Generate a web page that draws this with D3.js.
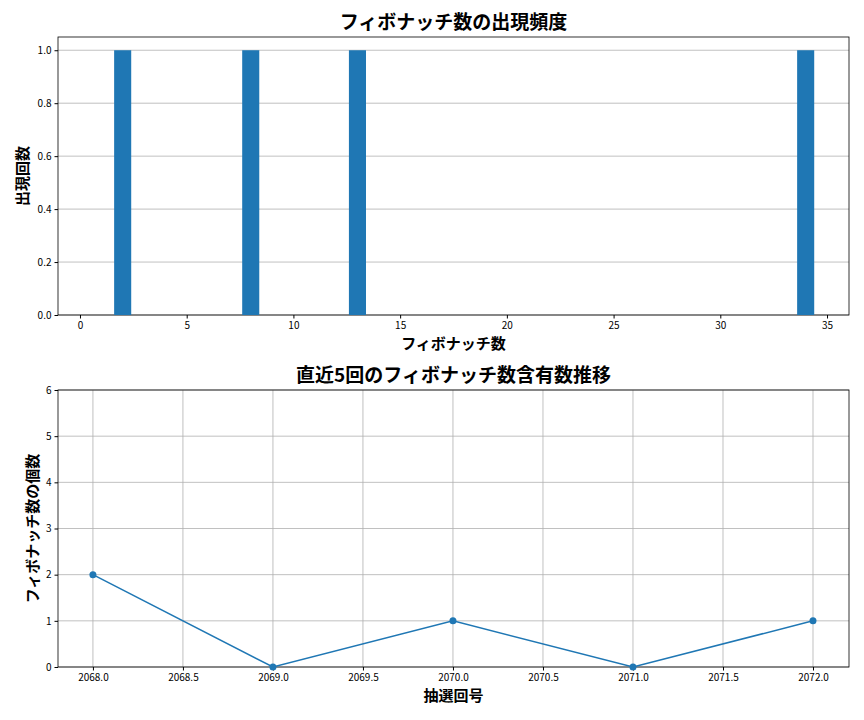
<!DOCTYPE html>
<html><head><meta charset="utf-8">
<script src="https://cdn.jsdelivr.net/npm/d3@7"></script>
<style>body{margin:0;background:#fff;font-family:"Noto Sans CJK JP",sans-serif}</style>
</head><body><svg id="c" width="864" height="720"></svg>
<script>
// data
let fibNums = [2, 8, 13, 34];
let fibCounts = [1, 1, 1, 1];
let drawNos = [2068, 2069, 2070, 2071, 2072];
let fibInDraw = [2, 0, 1, 0, 1];
let xTicks1 = [0, 5, 10, 15, 20, 25, 30, 35];
let yTicks1 = [0, 0.2, 0.4, 0.6, 0.8, 1.0];
let xTicks2 = [2068, 2068.5, 2069, 2069.5, 2070, 2070.5, 2071, 2071.5, 2072];
let yTicks2 = [0, 1, 2, 3, 4, 5, 6];

let svg = d3.select("#c");
let blue = "#1f77b4";

function frame(g, x, y, xt, yt, xf, yf, vgrid) {
    let [x0, x1] = x.range(), [y0, y1] = y.range();
    g.selectAll(".hg").data(yt).enter().append("line")
        .attr("x1", x0).attr("x2", x1).attr("y1", d => y(d)).attr("y2", d => y(d))
        .attr("stroke", "#b0b0b0").attr("stroke-width", 0.8);
    if (vgrid) g.selectAll(".vg").data(xt).enter().append("line")
        .attr("y1", y0).attr("y2", y1).attr("x1", d => x(d)).attr("x2", d => x(d))
        .attr("stroke", "#b0b0b0").attr("stroke-width", 0.8);
    let ax = g.append("g").attr("transform", `translate(0,${y0})`)
        .call(d3.axisBottom(x).tickValues(xt).tickFormat(xf).tickSize(3.5).tickSizeOuter(0));
    let ay = g.append("g").attr("transform", `translate(${x0},0)`)
        .call(d3.axisLeft(y).tickValues(yt).tickFormat(yf).tickSize(3.5).tickSizeOuter(0));
    [ax, ay].forEach(a => { a.selectAll("text").attr("font-size", 10).attr("fill", "#000").style("font-family", "'Noto Sans CJK JP'"); a.select(".domain").remove(); });
    g.append("rect").attr("x", x0).attr("y", y1).attr("width", x1 - x0).attr("height", y0 - y1)
        .attr("fill", "none").attr("stroke", "#000").attr("stroke-width", 0.8);
}

function labels(title, tx, ty, x, y, xl, yl) {
    let [x0, x1] = x.range(), [y0, y1] = y.range();
    svg.append("text").attr("x", (x0 + x1) / 2).attr("y", y1 - 8).attr("text-anchor", "middle")
        .attr("font-size", 19).attr("font-weight", "bold").text(title);
    svg.append("text").attr("x", (x0 + x1) / 2).attr("y", y0 + 34).attr("text-anchor", "middle")
        .attr("font-size", 15).attr("font-weight", "bold").text(xl);
    svg.append("text").attr("transform", `translate(${ty},${(y0 + y1) / 2}) rotate(-90)`).attr("text-anchor", "middle")
        .attr("font-size", 15).attr("font-weight", "bold").text(yl);
}

// top chart
let x1 = d3.scaleLinear().domain([-1.03, 36.03]).range([58, 849]);
let y1 = d3.scaleLinear().domain([0, 1.05]).range([315, 37]);
let g1 = svg.append("g");
frame(g1, x1, y1, xTicks1, yTicks1, d3.format("d"), d3.format(".1f"), false);
g1.selectAll(".bar").data(fibNums).enter().append("rect")
    .attr("x", d => x1(d - 0.4)).attr("width", x1(0.8) - x1(0))
    .attr("y", (d, i) => y1(fibCounts[i])).attr("height", (d, i) => y1(0) - y1(fibCounts[i]))
    .attr("fill", blue);
g1.select("rect:last-of-type").raise();
labels("フィボナッチ数の出現頻度", 0, 28, x1, y1, "フィボナッチ数", "出現回数");

// bottom chart
let x2 = d3.scaleLinear().domain([2067.806, 2072.2]).range([58, 849]);
let y2 = d3.scaleLinear().domain([0, 6]).range([667, 390]);
let g2 = svg.append("g");
frame(g2, x2, y2, xTicks2, yTicks2, d3.format(".1f"), d3.format("d"), true);
g2.append("path").datum(drawNos)
    .attr("d", d3.line().x(d => x2(d)).y((d, i) => y2(fibInDraw[i])))
    .attr("fill", "none").attr("stroke", blue).attr("stroke-width", 1.5);
g2.selectAll(".pt").data(drawNos).enter().append("circle")
    .attr("cx", d => x2(d)).attr("cy", (d, i) => y2(fibInDraw[i])).attr("r", 3.5).attr("fill", blue);
labels("直近5回のフィボナッチ数含有数推移", 0, 38, x2, y2, "抽選回号", "フィボナッチ数の個数");
</script></body></html>
